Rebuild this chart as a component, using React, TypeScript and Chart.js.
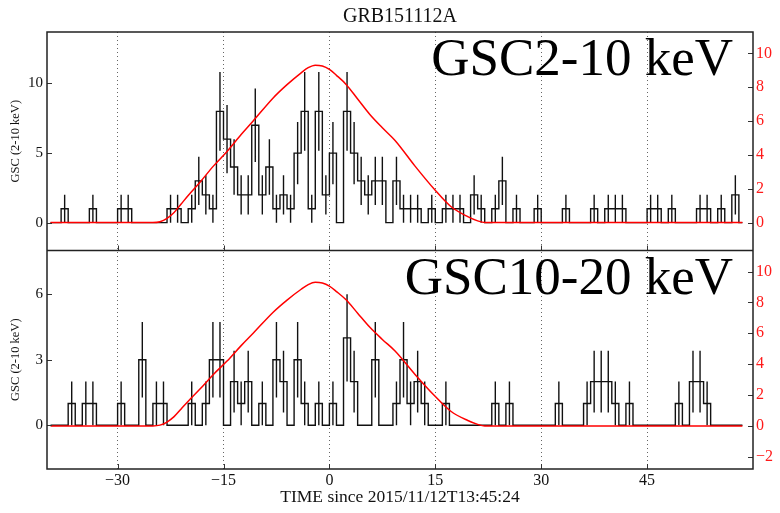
import React, { useEffect, useRef } from "react";
import { Chart, registerables } from "chart.js";

Chart.register(...registerables);

const TITLE = "GRB151112A";
const X_LABEL = "TIME since 2015/11/12T13:45:24";
const Y_LABEL = "GSC (2-10 keV)";
const PANEL_LABELS = ["GSC2-10 keV", "GSC10-20 keV"];

const X_TICKS = [-30, -15, 0, 15, 30, 45];
const TOP_LEFT_TICKS = [0, 5, 10];
const TOP_RIGHT_TICKS = [0, 2, 4, 6, 8, 10];
const BOT_LEFT_TICKS = [0, 3, 6];
const BOT_RIGHT_TICKS = [-2, 0, 2, 4, 6, 8, 10];

// 1-s bins, first bin starts at -40 s, last bin starts at 58 s
const BIN_START = -40;
const BIN_WIDTH = 1;
const HIST_START = -39.5;
const HIST_END = 58.5;

const COUNTS_2_10 = [
  0, 0, 1, 0, 0, 0, 1, 0, 0, 0,
  1, 1, 0, 0, 0, 0, 0, 1, 1, 0,
  1, 3, 2, 1, 8, 6, 4, 2, 2, 7,
  2, 4, 1, 2, 1, 5, 8, 1, 8, 2,
  5, 0, 8, 5, 3, 2, 3, 3, 0, 3,
  1, 1, 1, 0, 1, 0, 1, 1, 1, 0,
  2, 1, 0, 1, 3, 0, 1, 0, 0, 1,
  0, 0, 0, 1, 0, 0, 0, 1, 0, 1,
  1, 1, 0, 0, 0, 1, 1, 0, 1, 0,
  0, 0, 1, 1, 0, 1, 0, 2, 0,
];

const COUNTS_10_20 = [
  0, 0, 0, 1, 0, 1, 1, 0, 0, 0,
  1, 0, 0, 3, 0, 1, 1, 0, 0, 0,
  1, 0, 1, 3, 3, 0, 2, 1, 2, 0,
  1, 0, 3, 2, 0, 3, 1, 0, 1, 0,
  1, 0, 4, 2, 0, 0, 3, 0, 0, 1,
  3, 1, 2, 1, 0, 0, 1, 0, 0, 0,
  0, 0, 0, 1, 0, 1, 0, 0, 0, 0,
  0, 0, 1, 0, 0, 0, 1, 2, 2, 2,
  1, 0, 1, 0, 0, 0, 0, 0, 0, 1,
  0, 2, 2, 1, 0, 0, 0, 0, 0,
];

// model curve (right axis)
const MODEL_T = [
  -39.5, -25, -24, -23, -22, -21, -20, -18.3, -16.4, -14.5, -12.5, -10.8,
  -8, -6, -4, -3, -2, -1, 0, 1, 2.4, 4, 5.7, 7.5, 9.3, 12.1, 14.9, 17.2, 19.6,
  21, 22, 58.5,
];
const MODEL_V = [
  0, 0, 0.05, 0.25, 0.6, 1.1, 1.6, 2.4, 3.35, 4.2, 5.2, 6.0,
  7.35, 8.15, 8.85, 9.15, 9.3, 9.25, 9.05, 8.7, 8.15, 7.3, 6.4, 5.6, 4.85, 3.35, 1.95, 0.95, 0.35,
  0.1, 0, 0,
];

const FONT = '"Liberation Serif", "Times New Roman", serif';

function histPoints(counts: number[]) {
  const pts: { x: number; y: number }[] = [];
  for (let i = 0; i < counts.length; i++) {
    pts.push({ x: Math.max(HIST_START, BIN_START + i * BIN_WIDTH), y: counts[i] });
  }
  pts.push({ x: HIST_END, y: counts[counts.length - 1] });
  return pts;
}

function errPoints(counts: number[]) {
  const pts: { x: number; y: number | null }[] = [];
  counts.forEach((n, i) => {
    if (n <= 0) return;
    const c = BIN_START + (i + 0.5) * BIN_WIDTH;
    const e = Math.sqrt(n);
    pts.push({ x: c, y: n - e }, { x: c, y: n + e }, { x: c, y: null });
  });
  return pts;
}

function modelPoints() {
  return MODEL_T.map((t, i) => ({ x: t, y: MODEL_V[i] }));
}

const fmt = (v: number | string) => String(v).replace("-", "\u2212");

const framePlugin = {
  id: "frame",
  afterDatasetsDraw(chart: any) {
    const { ctx, chartArea: a, scales } = chart;
    const yT = scales.yT;
    const yB = scales.yB;
    ctx.save();
    // panel labels
    ctx.fillStyle = "#000";
    ctx.font = `53px ${FONT}`;
    ctx.textAlign = "right";
    ctx.textBaseline = "alphabetic";
    ctx.fillText(PANEL_LABELS[0], a.right - 20, yT.top + 43);
    ctx.fillText(PANEL_LABELS[1], a.right - 20, yB.top + 43);
    // inward ticks
    ctx.strokeStyle = "#333";
    ctx.lineWidth = 1;
    ctx.beginPath();
    for (const id of ["yT", "yB"]) {
      const s = scales[id];
      for (const t of s.ticks) {
        const y = Math.round(s.getPixelForValue(t.value)) + 0.5;
        ctx.moveTo(a.left, y);
        ctx.lineTo(a.left + 5, y);
      }
    }
    for (const id of ["rT", "rB"]) {
      const s = scales[id];
      for (const t of s.ticks) {
        const y = Math.round(s.getPixelForValue(t.value)) + 0.5;
        ctx.moveTo(a.right, y);
        ctx.lineTo(a.right - 5, y);
      }
    }
    const sx = scales.x;
    for (const t of sx.ticks) {
      const x = Math.round(sx.getPixelForValue(t.value)) + 0.5;
      for (const b of [yT.bottom, yB.bottom]) {
        ctx.moveTo(x, b);
        ctx.lineTo(x, b - 5);
      }
    }
    ctx.stroke();
    // frame and separator
    ctx.strokeStyle = "#222";
    ctx.lineWidth = 1.5;
    ctx.strokeRect(a.left, a.top, a.right - a.left, a.bottom - a.top);
    ctx.beginPath();
    ctx.moveTo(a.left, yT.bottom);
    ctx.lineTo(a.right, yT.bottom);
    ctx.stroke();
    ctx.restore();
  },
};

function yScale(pos: "left" | "right", stack: string, min: number, max: number, ticks: number[], red: boolean, title: boolean) {
  return {
    type: "linear" as const,
    position: pos,
    stack,
    stackWeight: 1,
    min,
    max,
    afterBuildTicks: (s: any) => {
      s.ticks = ticks.map((v) => ({ value: v }));
    },
    afterFit: (s: any) => {
      s.width = pos === "left" ? 47 : 27;
    },
    grid: { display: false, drawTicks: false },
    border: { display: false },
    ticks: {
      color: red ? "#ff1a1a" : "#111",
      font: { size: pos === "left" ? 15 : 16, family: FONT },
      padding: pos === "left" ? 4 : 3,
      autoSkip: false,
      callback: fmt,
    },
    title: {
      display: title,
      text: Y_LABEL,
      color: "#111",
      font: { size: 12.5, family: FONT },
      padding: { top: 8, bottom: 0 },
    },
  };
}

export default function App() {
  const ref = useRef<HTMLCanvasElement | null>(null);

  useEffect(() => {
    if (!ref.current) return;
    const chart = new Chart(ref.current, {
      type: "line",
      data: {
        datasets: [
          {
            data: modelPoints(),
            xAxisID: "x",
            yAxisID: "rT",
            borderColor: "#ff0000",
            borderWidth: 1.5,
            pointRadius: 0,
            cubicInterpolationMode: "monotone",
          },
          {
            data: modelPoints(),
            xAxisID: "x",
            yAxisID: "rB",
            borderColor: "#ff0000",
            borderWidth: 1.5,
            pointRadius: 0,
            cubicInterpolationMode: "monotone",
          },
          {
            data: histPoints(COUNTS_2_10),
            yAxisID: "yT",
            borderColor: "#111",
            borderWidth: 1.4,
            pointRadius: 0,
            stepped: "before",
          },
          {
            data: errPoints(COUNTS_2_10),
            yAxisID: "yT",
            borderColor: "#111",
            borderWidth: 1.4,
            pointRadius: 0,
            spanGaps: false,
          },
          {
            data: histPoints(COUNTS_10_20),
            yAxisID: "yB",
            borderColor: "#111",
            borderWidth: 1.4,
            pointRadius: 0,
            stepped: "before",
          },
          {
            data: errPoints(COUNTS_10_20),
            yAxisID: "yB",
            borderColor: "#111",
            borderWidth: 1.4,
            pointRadius: 0,
            spanGaps: false,
          },
        ] as any,
      },
      options: {
        animation: false,
        responsive: false,
        devicePixelRatio: 1,
        events: [],
        layout: { padding: 0 },
        plugins: {
          legend: { display: false },
          tooltip: { enabled: false },
          title: {
            display: true,
            text: TITLE,
            fullSize: false,
            color: "#111",
            font: { size: 20, family: FONT, weight: "normal" },
            padding: { top: 5, bottom: 3 },
          },
        },
        scales: {
          x: {
            type: "linear",
            min: -40,
            max: 60,
            afterBuildTicks: (s: any) => {
              s.ticks = X_TICKS.map((v) => ({ value: v }));
            },
            afterFit: (s: any) => {
              s.height = 44;
            },
            grid: { color: "rgba(0,0,0,0.6)", lineWidth: 1, drawTicks: false },
            border: { display: false, dash: [1, 3] },
            ticks: {
              color: "#111",
              font: { size: 16, family: FONT },
              padding: 2,
              maxRotation: 0,
              autoSkip: false,
              callback: fmt,
            },
            title: {
              display: true,
              text: X_LABEL,
              color: "#111",
              font: { size: 17.5, family: FONT },
              padding: { top: 0, bottom: 5 },
            },
          },
          yB: yScale("left", "L", -2, 8, BOT_LEFT_TICKS, false, true),
          yT: yScale("left", "L", -2, 13.7, TOP_LEFT_TICKS, false, true),
          rT: yScale("right", "R", -1.65, 11.26, TOP_RIGHT_TICKS, true, false),
          rB: yScale("right", "R", -2.79, 11.36, BOT_RIGHT_TICKS, true, false),
        } as any,
      },
      plugins: [framePlugin],
    });
    return () => chart.destroy();
  }, []);

  return (
    <div style={{ position: "fixed", left: 0, top: 0, width: 780, height: 513, background: "#fff" }}>
      <canvas ref={ref} width={780} height={513} style={{ width: 780, height: 513, display: "block" }} />
    </div>
  );
}
